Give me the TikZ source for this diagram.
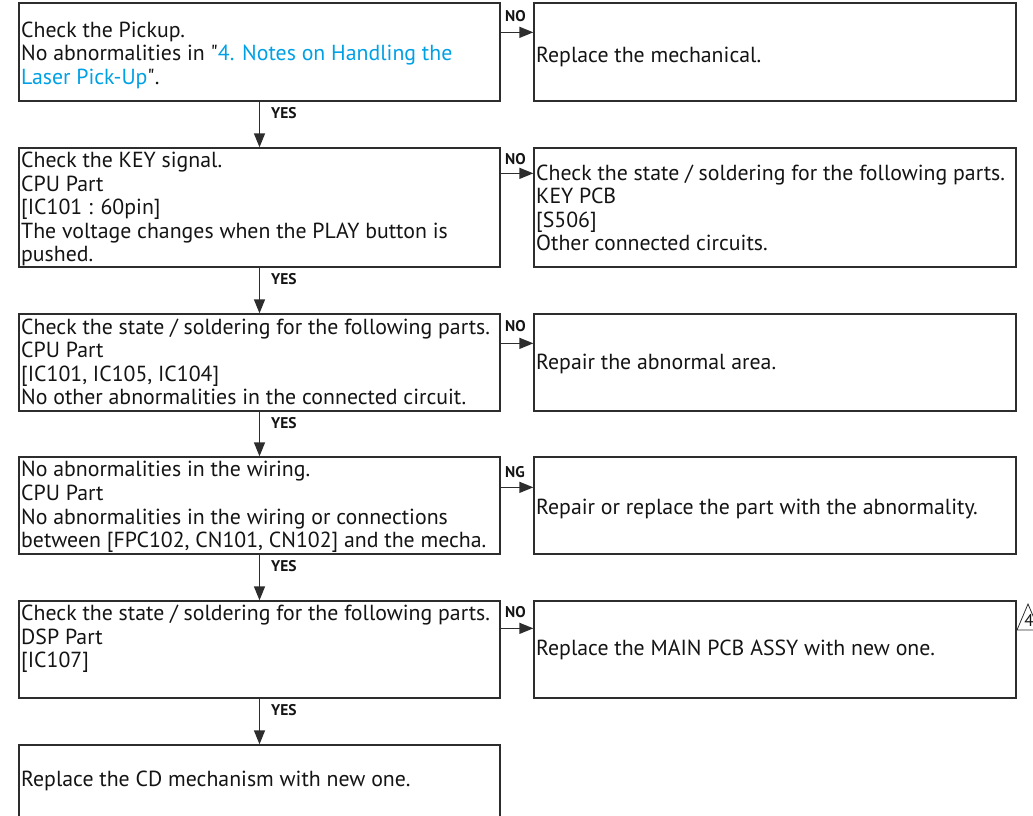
\documentclass[tikz,border=0pt]{standalone}
\usepackage{fontspec}
\setmainfont{PT Sans}
\newfontfamily\plainquote{PT Sans}[Ligatures=TeXOff]
\usetikzlibrary{arrows.meta,calc}
\definecolor{framegray}{RGB}{45,45,45}
\definecolor{inkblack}{RGB}{20,20,20}
\definecolor{linkblue}{RGB}{0,160,228}
\newcommand{\dq}{{\plainquote\symbol{34}}}
\tikzset{
  lbox/.style={draw=framegray, line width=1.3pt, minimum width=481pt, inner sep=0pt},
  rbox/.style={draw=framegray, line width=1.3pt, minimum width=482pt, inner sep=0pt},
  txt/.style={anchor=west, align=left, inner sep=0pt, text=inkblack,
    font=\fontsize{21.8}{23.5}\selectfont},
  tag/.style={inner sep=0pt, text=inkblack, font=\fontsize{15.5}{16}\selectfont\bfseries},
  flow/.style={draw=framegray, line width=1.3pt,
    -{Triangle[length=14pt,width=11pt]}},
}
\begin{document}
\begin{tikzpicture}[x=1pt,y=-1pt]
\useasboundingbox (0,0) rectangle (1033,816);
\clip (0,0) rectangle (1033,816);

% left column of checks
\node[lbox, minimum height=98pt]  (b1) at (259.5,52)    {};
\node[lbox, minimum height=119pt] (b2) at (259.5,207.5) {};
\node[lbox, minimum height=97pt]  (b3) at (259.5,362.5) {};
\node[lbox, minimum height=97pt]  (b4) at (259.5,505.5) {};
\node[lbox, minimum height=97pt]  (b5) at (259.5,649.5) {};
\node[lbox, minimum height=120pt] (b6) at (259.5,805)   {};

% right column of remedies
\node[rbox, minimum height=98pt]  (r1) at (775,52)    {};
\node[rbox, minimum height=119pt] (r2) at (775,207.5) {};
\node[rbox, minimum height=97pt]  (r3) at (775,362.5) {};
\node[rbox, minimum height=97pt]  (r4) at (775,505.5) {};
\node[rbox, minimum height=97pt]  (r5) at (775,649.5) {};

% texts of the checks
\node[txt] (t1) at (21,55) {Check the Pickup.\\
  No abnormalities in \dq\textcolor{linkblue}{4. Notes on Handling the}\\
  \textcolor{linkblue}{Laser Pick-Up}\dq.};
\node[txt] (t2) at (21,209) {Check the KEY signal.\\CPU Part\\{[IC101 : 60pin]}\\
  The voltage changes when the PLAY button is\\pushed.};
\node[txt] (t3) at (21,362) {Check the state / soldering for the following parts.\\
  CPU Part\\{[IC101, IC105, IC104]}\\No other abnormalities in the connected circuit.};
\node[txt] (t4) at (21,507) {No abnormalities in the wiring.\\CPU Part\\
  No abnormalities in the wiring or connections\\
  between [FPC102, CN101, CN102] and the mecha.};
\node[txt] (t5) at (21,639) {Check the state / soldering for the following parts.\\
  DSP Part\\{[IC107]}};
\node[txt] (t6) at (21,781) {Replace the CD mechanism with new one.};

% texts of the remedies
\node[txt] (s1) at (536,57)  {Replace the mechanical.};
\node[txt] (s2) at (536,208) {Check the state / soldering for the following parts.\\
  KEY PCB\\{[S506]}\\Other connected circuits.};
\node[txt] (s3) at (536,364) {Repair the abnormal area.};
\node[txt] (s4) at (536,509) {Repair or replace the part with the abnormality.};
\node[txt] (s5) at (536,650) {Replace the MAIN PCB ASSY with new one.};

% YES branches
\foreach \a/\b in {b1/b2,b2/b3,b3/b4,b4/b5,b5/b6}
  \draw[flow] (\a.south) -- (\b.north);
\foreach \a/\y in {b1/113,b2/279,b3/423,b4/566,b5/710}
  \node[tag, anchor=west] (yes\a) at (271,\y) {YES};

% NO / NG branches
\foreach \a/\b/\d in {b1/r1/30,b2/r2/26,b3/r3/30,b4/r4/31,b5/r5/28}
  \draw[flow] ($(\a.north east)+(0,\d)$) -- ($(\b.north west)+(0,\d)$);
\node[tag, anchor=west] (no1) at (505,16)  {NO};
\node[tag, anchor=west] (no2) at (505,159) {NO};
\node[tag, anchor=west] (no3) at (505,326) {NO};
\node[tag, anchor=west] (ng4) at (505,472) {NG};
\node[tag, anchor=west] (no5) at (505,612) {NO};

% safety mark beside the last remedy
\draw[framegray, line width=0.8pt] (1017,630) -- (1028,604) -- (1039,630) -- cycle;
\node[inner sep=0pt, text=inkblack, font=\fontsize{17}{17}\selectfont] (mark) at (1029,620) {4};
\end{tikzpicture}
\end{document}
